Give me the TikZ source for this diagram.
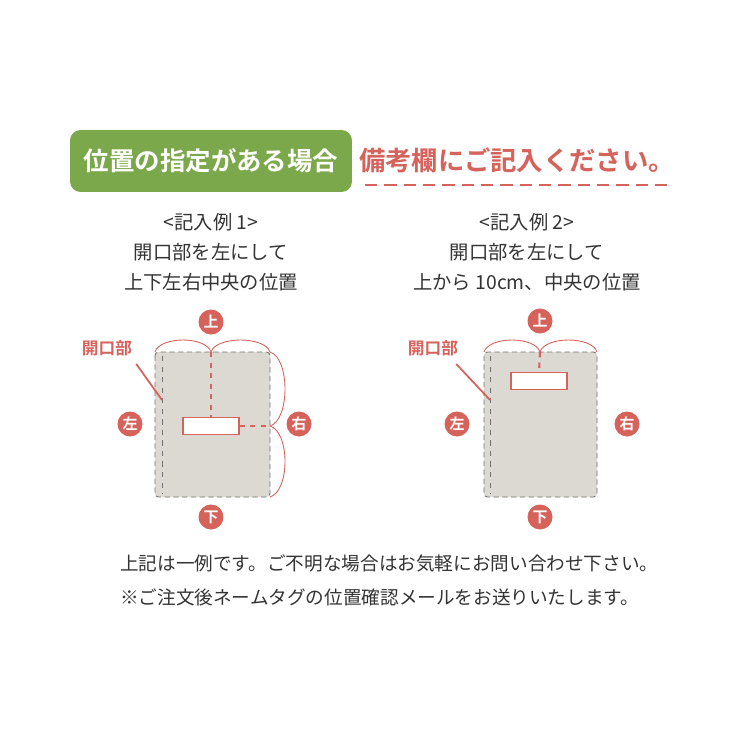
\documentclass[tikz,border=0pt]{standalone}
\usepackage{fontspec}
\newfontfamily\jp{Noto Sans CJK JP}
\newfontfamily\jpb{Noto Sans CJK JP Bold}
\definecolor{leaf}{HTML}{7AA84A}
\definecolor{rose}{HTML}{D6625C}
\definecolor{card}{HTML}{DCD8D2}
\definecolor{ink}{HTML}{333333}
\tikzset{
 badge/.style={circle,fill=rose,text=white,inner sep=0pt,minimum size=0.5cm,font=\jpb\fontsize{8.5}{8.5}\selectfont},
 caption/.style={text=ink,font=\jp\fontsize{11}{11}\selectfont},
 cardbox/.style={fill=card,draw=ink!70,densely dashed,rounded corners=2pt,line width=0.5pt},
 tagbox/.style={fill=white,draw=rose,line width=0.6pt},
 guide/.style={draw=rose,dashed,line width=1.2pt},
 span/.style={draw=rose,line width=0.5pt},
}
\begin{document}
\begin{tikzpicture}[x=0.02cm,y=-0.02cm]
 \useasboundingbox (0,0) rectangle (750,750);
 %header
 \node[fill=leaf,rounded corners=6pt,minimum width=5.64cm,minimum height=1.24cm,text=white,font=\jpb\fontsize{14.5}{14.5}\selectfont] (head) at (211,161) {位置の指定がある場合};
 \node[text=rose,font=\jpb\fontsize{15}{15}\selectfont] (note) at (517,160) {備考欄にご記入ください。};
 \draw[rose,line width=1.5pt,dash pattern=on 7pt off 4pt] (365,185) -- (668,185);

 %captions
 \node[caption,align=center] (capA) at (211,252) {<記入例 1>\\[6pt]開口部を左にして\\[6pt]上下左右中央の位置};
 \node[caption,align=center] (capB) at (527,252) {<記入例 2>\\[6pt]開口部を左にして\\[6pt]上から 10cm、中央の位置};

 %example 1
 \draw[cardbox] (155,352) rectangle (270,497);
 \draw[ink!70,dashed] (162,356) -- (162,494);
 \node[tagbox,minimum width=1.12cm,minimum height=0.34cm] (tagA) at (211,426) {};
 \coordinate (topA) at (211,352);
 \coordinate (sideA) at (270,426);
 \draw[guide] (topA) -- (tagA.north);
 \draw[guide] (tagA.east) -- (sideA);
 \draw[span] (155,352) .. controls (160,336) and (206,336) .. (topA) .. controls (216,336) and (265,336) .. (270,352);
 \draw[span] (270,352) .. controls (290,358) and (290,420) .. (sideA) .. controls (290,432) and (290,491) .. (270,497);
 \node[badge] (upA) at (211,322) {上};
 \node[badge] (leftA) at (130,424) {左};
 \node[badge] (rightA) at (299,424) {右};
 \node[badge] (downA) at (211,517) {下};
 \node[text=rose,font=\jpb\fontsize{9.5}{9.5}\selectfont] (openA) at (107,348) {開口部};
 \coordinate (slitA) at (162,400);
 \draw[rose,line width=1pt] (openA.south east) ++(-2,2) -- (slitA);

 %example 2
 \draw[cardbox] (484,352) rectangle (597,497);
 \draw[ink!70,dashed] (490,356) -- (490,494);
 \node[tagbox,minimum width=1.12cm,minimum height=0.34cm] (tagB) at (539,381) {};
 \coordinate (topB) at (540,352);
 \draw[guide] (topB) -- (tagB.north);
 \draw[span] (484,352) .. controls (489,336) and (535,336) .. (topB) .. controls (545,336) and (592,336) .. (597,352);
 \node[badge] (upB) at (540,321) {上};
 \node[badge] (leftB) at (457,424) {左};
 \node[badge] (rightB) at (627,424) {右};
 \node[badge] (downB) at (540,517) {下};
 \node[text=rose,font=\jpb\fontsize{9.5}{9.5}\selectfont] (openB) at (433,348) {開口部};
 \coordinate (slitB) at (490,400);
 \draw[rose,line width=1pt] (openB.south east) ++(-8,2) -- (slitB);

 %footnotes
 \node[caption,anchor=west,font=\jp\fontsize{10.6}{10.6}\selectfont] (noteA) at (114,563) {上記は一例です。ご不明な場合はお気軽にお問い合わせ下さい。};
 \node[caption,anchor=west,font=\jp\fontsize{10.6}{10.6}\selectfont] (noteB) at (114,597) {※ご注文後ネームタグの位置確認メールをお送りいたします。};
\end{tikzpicture}
\end{document}
